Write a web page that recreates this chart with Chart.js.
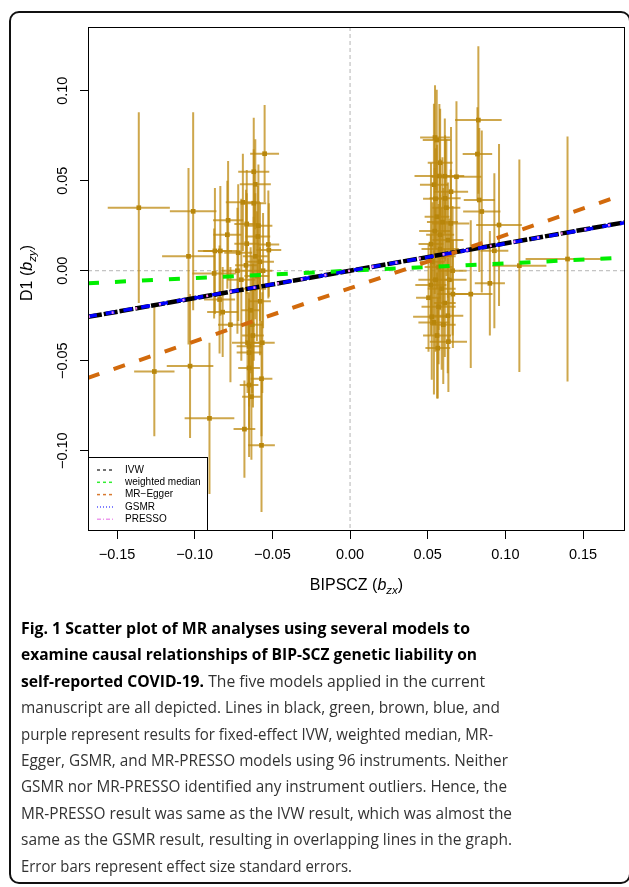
<!DOCTYPE html>
<html>
<head>
<meta charset="utf-8">
<script src="https://cdn.jsdelivr.net/npm/chart.js@4.4.1/dist/chart.umd.min.js"></script>
<style>
body { margin: 0; background: #fff; width: 629px; height: 887px; overflow: hidden; position: relative; }
#c { position: absolute; left: 0; top: 0; }
#frame { position: absolute; left: 9px; top: 11px; width: 622px; height: 873px; box-sizing: border-box;
         border: 2px solid #111; border-radius: 10px; pointer-events: none; }
#cap { position: absolute; left: 21px; top: 615px; font-family: "Open Sans", sans-serif; font-size: 16.5px;
       line-height: 26.4px; color: #333; }
.ln { white-space: nowrap; height: 26.4px; }
.ln .in { display: inline-block; transform-origin: 0 50%; }
.ln b { color: #000; }
</style>
</head>
<body>
<canvas id="c" width="629" height="600"></canvas>
<div id="frame"></div>
<div id="cap">
  <div class="ln" data-w="449"><span class="in"><b>Fig. 1 Scatter plot of MR analyses using several models to</b></span></div>
  <div class="ln" data-w="456"><span class="in"><b>examine causal relationships of BIP-SCZ genetic liability on</b></span></div>
  <div class="ln" data-w="464"><span class="in"><b>self-reported COVID-19.</b> The five models applied in the current</span></div>
  <div class="ln" data-w="479"><span class="in">manuscript are all depicted. Lines in black, green, brown, blue, and</span></div>
  <div class="ln" data-w="472"><span class="in">purple represent results for fixed-effect IVW, weighted median, MR-</span></div>
  <div class="ln" data-w="487"><span class="in">Egger, GSMR, and MR-PRESSO models using 96 instruments. Neither</span></div>
  <div class="ln" data-w="486"><span class="in">GSMR nor MR-PRESSO identified any instrument outliers. Hence, the</span></div>
  <div class="ln" data-w="491"><span class="in">MR-PRESSO result was same as the IVW result, which was almost the</span></div>
  <div class="ln" data-w="491"><span class="in">same as the GSMR result, resulting in overlapping lines in the graph.</span></div>
  <div class="ln" data-w="331"><span class="in">Error bars represent effect size standard errors.</span></div>
</div>
<script>
// effets des instruments sur l'exposition (bzx) et sur le résultat (bzy), avec erreurs standard
const bx = [
  -0.136, -0.101, -0.104, -0.069, -0.062, -0.055, -0.061, -0.0785, -0.079, -0.0665,
  -0.087, -0.0835, -0.0594, -0.0526, -0.0523, -0.0875, -0.061, -0.058, -0.126, -0.103,
  -0.0905, -0.068, -0.057, -0.065, -0.066, -0.065, -0.065, -0.0565, -0.082, -0.084,
  -0.065, -0.058, -0.062, -0.070, -0.067, -0.063, -0.064, -0.060, -0.072, -0.059,
  -0.0635, -0.0625, -0.077, -0.057, -0.0665, -0.062, -0.0725, -0.056,
  0.0826, 0.0547, 0.0558, 0.082, 0.0575, 0.0685, 0.054, 0.065, 0.0612, 0.0832,
  0.0848, 0.0959, 0.0648, 0.0521, 0.0929, 0.109, 0.140, 0.090, 0.0777, 0.0526,
  0.054, 0.0629, 0.0633, 0.0662, 0.056, 0.058, 0.060, 0.057, 0.055, 0.059,
  0.061, 0.056, 0.058, 0.053, 0.063, 0.0505, 0.066, 0.0545, 0.060, 0.062,
  0.057, 0.055, 0.064, 0.0595, 0.052, 0.0565, 0.061, 0.058
];
const by = [
  0.035, 0.033, 0.008, 0.038, 0.055, 0.065, 0.048, 0.028, 0.020, 0.026,
  0.011, 0.011, 0.019, 0.0146, 0.0115, -0.0015, 0.008, 0.005, -0.056, -0.053,
  -0.082, -0.088, -0.097, -0.042, -0.040, -0.054, -0.0635, -0.040, -0.023, -0.016,
  -0.0455, -0.017, -0.010, -0.005, 0.003, -0.030, -0.022, -0.003, 0.010, 0.025,
  -0.070, -0.036, -0.030, -0.060, 0.015, 0.0375, 0.000, 0.000,
  0.0837, 0.074, 0.0726, 0.0648, 0.0526, 0.0522, 0.0478, 0.0439, 0.0402, 0.0393,
  0.0329, 0.0254, 0.0263, 0.0148, 0.0111, 0.0028, 0.0065, -0.007, -0.013, -0.0256,
  -0.0287, -0.025, -0.0394, -0.013, 0.030, 0.020, 0.008, 0.002, -0.005, -0.010,
  -0.018, -0.036, 0.012, 0.005, 0.017, -0.015, 0.000, 0.022, -0.030, 0.035,
  -0.020, 0.040, -0.005, 0.027, -0.008, -0.043, 0.0525, 0.060
];
const sx = [
  0.020, 0.015, 0.017, 0.011, 0.010, 0.0093, 0.010, 0.0097, 0.009, 0.008,
  0.011, 0.011, 0.008, 0.007, 0.008, 0.014, 0.008, 0.009, 0.013, 0.015,
  0.016, 0.007, 0.0086, 0.008, 0.010, 0.007, 0.006, 0.008, 0.010, 0.010,
  0.008, 0.007, 0.008, 0.009, 0.007, 0.007, 0.006, 0.008, 0.009, 0.009,
  0.006, 0.007, 0.008, 0.007, 0.008, 0.008, 0.010, 0.006,
  0.015, 0.0096, 0.009, 0.0095, 0.016, 0.016, 0.009, 0.011, 0.010, 0.010,
  0.012, 0.0147, 0.012, 0.008, 0.009, 0.0174, 0.027, 0.0097, 0.014, 0.012,
  0.010, 0.010, 0.012, 0.010, 0.008, 0.009, 0.008, 0.009, 0.011, 0.009,
  0.007, 0.009, 0.012, 0.008, 0.010, 0.008, 0.009, 0.010, 0.008, 0.009,
  0.011, 0.008, 0.011, 0.010, 0.010, 0.008, 0.009, 0.008
];
const sy = [
  0.053, 0.055, 0.049, 0.027, 0.030, 0.027, 0.025, 0.033, 0.030, 0.030,
  0.035, 0.036, 0.028, 0.030, 0.026, 0.025, 0.035, 0.033, 0.036, 0.040,
  0.042, 0.027, 0.037, 0.030, 0.028, 0.034, 0.040, 0.028, 0.025, 0.030,
  0.030, 0.030, 0.040, 0.045, 0.042, 0.038, 0.035, 0.036, 0.038, 0.034,
  0.035, 0.040, 0.032, 0.032, 0.028, 0.030, 0.035, 0.032,
  0.041, 0.029, 0.028, 0.026, 0.040, 0.042, 0.045, 0.036, 0.035, 0.040,
  0.045, 0.045, 0.030, 0.045, 0.043, 0.059, 0.068, 0.029, 0.041, 0.035,
  0.040, 0.032, 0.028, 0.030, 0.040, 0.042, 0.038, 0.035, 0.040, 0.045,
  0.030, 0.035, 0.030, 0.033, 0.032, 0.030, 0.036, 0.035, 0.033, 0.038,
  0.032, 0.028, 0.034, 0.036, 0.028, 0.028, 0.032, 0.030
];

// droites des cinq modèles : pente et ordonnée à l'origine
const methods = ['IVW', 'weighted median', 'MR\u2212Egger', 'GSMR', 'PRESSO'];
const slopes = [0.152, 0.041, 0.295, 0.151, 0.152];
const intercepts = [0, 0, -0.0097, 0, 0];

const xTicks = [-0.15, -0.10, -0.05, 0.00, 0.05, 0.10, 0.15];
const yTicks = [-0.10, -0.05, 0.00, 0.05, 0.10];

const xMin = -0.1687, xMax = 0.177, yMin = -0.1446, yMax = 0.1354;

const lineColors = ['#000000', '#00ee00', '#d26a0c', '#0000ff', '#ee82ee'];
const lineDash = [[14, 2], [11, 16], [12, 15], [9, 9], [2, 22]];
const lineWidths = [4.5, 4, 4, 3.5, 2.5];
const legendDash = [[3, 3], [3, 3], [3, 3], [1, 2], [4, 2, 1, 2]];
const legendColors = ['#444444', '#33ee33', '#d87a30', '#5555ff', '#ee99ee'];

function fmt(v) {
    const s = Math.abs(v).toFixed(2);
    return (v < -1e-9 ? '\u2212' : '') + s;
}

// texte composé avec indice en italique, ex. "BIPSCZ (b_zx)"
function richLabel(ctx, parts, size) {
    let w = 0;
    parts.forEach(p => {
        ctx.font = (p.it ? 'italic ' : '') + (p.sub ? size * 0.72 : size) + 'px "Liberation Sans", Arial';
        p.w = ctx.measureText(p.t).width;
        w += p.w;
    });
    let cx = -w / 2;
    parts.forEach(p => {
        ctx.font = (p.it ? 'italic ' : '') + (p.sub ? size * 0.72 : size) + 'px "Liberation Sans", Arial';
        ctx.fillText(p.t, cx, p.sub ? size * 0.28 : 0);
        cx += p.w;
    });
}

const mrPlot = {
    id: 'mrPlot',
    beforeDatasetsDraw(chart) {
        const {ctx, chartArea: a, scales: {x, y}} = chart;
        ctx.save();
        ctx.beginPath();
        ctx.rect(a.left, a.top, a.width, a.height);
        ctx.clip();

        // lignes de référence à zéro
        ctx.strokeStyle = '#b4b4b4';
        ctx.lineWidth = 1;
        ctx.setLineDash([4, 3]);
        ctx.beginPath();
        ctx.moveTo(x.getPixelForValue(0), a.top);
        ctx.lineTo(x.getPixelForValue(0), a.bottom);
        ctx.moveTo(a.left, y.getPixelForValue(0));
        ctx.lineTo(a.right, y.getPixelForValue(0));
        ctx.stroke();

        // barres d'erreur
        ctx.setLineDash([]);
        ctx.strokeStyle = 'rgba(190,138,16,0.75)';
        ctx.lineWidth = 2;
        for (let i = 0; i < bx.length; i++) {
            const px = x.getPixelForValue(bx[i]);
            const py = y.getPixelForValue(by[i]);
            ctx.beginPath();
            ctx.moveTo(x.getPixelForValue(bx[i] - sx[i]), py);
            ctx.lineTo(x.getPixelForValue(bx[i] + sx[i]), py);
            ctx.moveTo(px, y.getPixelForValue(by[i] - sy[i]));
            ctx.lineTo(px, y.getPixelForValue(by[i] + sy[i]));
            ctx.stroke();
        }
        ctx.restore();
    },
    afterDraw(chart) {
        const {ctx, chartArea: a, scales: {y}} = chart;
        ctx.save();
        // cadre du graphique
        ctx.strokeStyle = '#000';
        ctx.lineWidth = 1;
        ctx.strokeRect(a.left + 0.5, a.top + 0.5, a.width - 1, a.height - 1);

        // étiquettes de l'axe y, tournées comme dans R
        ctx.fillStyle = '#000';
        ctx.font = '14.5px "Liberation Sans", Arial';
        ctx.textAlign = 'center';
        ctx.textBaseline = 'middle';
        yTicks.forEach(v => {
            ctx.save();
            ctx.translate(63, y.getPixelForValue(v));
            ctx.rotate(-Math.PI / 2);
            ctx.fillText(fmt(v), 0, 0);
            ctx.restore();
        });

        // titres des axes
        ctx.textAlign = 'left';
        ctx.textBaseline = 'alphabetic';
        ctx.save();
        ctx.translate((a.left + a.right) / 2, 590);
        richLabel(ctx, [{t: 'BIPSCZ ('}, {t: 'b', it: true}, {t: 'zx', it: true, sub: true}, {t: ')'}], 16);
        ctx.restore();
        ctx.save();
        ctx.translate(32, (a.top + a.bottom) / 2 - 6);
        ctx.rotate(-Math.PI / 2);
        richLabel(ctx, [{t: 'D1 ('}, {t: 'b', it: true}, {t: 'zy', it: true, sub: true}, {t: ')'}], 16);
        ctx.restore();

        // légende
        const lx = a.left, ly = 457, lw = 119, lh = a.bottom - 457;
        ctx.fillStyle = '#fff';
        ctx.fillRect(lx, ly, lw, lh);
        ctx.strokeStyle = '#000';
        ctx.strokeRect(lx + 0.5, ly + 0.5, lw, lh - 1);
        ctx.font = '10px "Liberation Sans", Arial';
        ctx.textBaseline = 'middle';
        methods.forEach((m, i) => {
            const ry = 470 + i * 12.3;
            ctx.strokeStyle = legendColors[i];
            ctx.lineWidth = 1.5;
            ctx.setLineDash(legendDash[i]);
            ctx.beginPath();
            ctx.moveTo(lx + 9, ry);
            ctx.lineTo(lx + 26, ry);
            ctx.stroke();
            ctx.fillStyle = '#000';
            ctx.fillText(m, lx + 37, ry);
        });
        ctx.restore();
    }
};

window.addEventListener('load', () => {
    let datasets = [];
    const drawOrder = [4, 3, 2, 1, 0];

    methods.forEach((m, i) => {
        datasets.push({
            label: m,
            data: [
                {x: xMin, y: intercepts[i] + slopes[i] * xMin},
                {x: xMax, y: intercepts[i] + slopes[i] * xMax}
            ],
            showLine: true,
            borderColor: lineColors[i],
            borderWidth: lineWidths[i],
            borderDash: lineDash[i],
            borderCapStyle: 'butt',
            pointRadius: 0,
            order: drawOrder[i]
        });
    });

    datasets.push({
        label: 'instruments',
        data: bx.map((v, i) => ({x: v, y: by[i]})),
        pointStyle: 'rect',
        pointRadius: 3.3,
        backgroundColor: '#b8860b',
        borderColor: '#b8860b',
        borderWidth: 0,
        showLine: false,
        order: 10
    });

    const ctx = document.getElementById('c').getContext('2d');
    new Chart(ctx, {
        type: 'scatter',
        data: { datasets: datasets },
        options: {
            responsive: false,
            animation: false,
            layout: { padding: { left: 0, top: 27, right: 4, bottom: 0 } },
            plugins: { legend: { display: false }, tooltip: { enabled: false } },
            scales: {
                x: {
                    type: 'linear', min: xMin, max: xMax,
                    afterBuildTicks: s => { s.ticks = xTicks.map(v => ({value: v})); },
                    afterFit: s => { s.height = 69; },
                    grid: { drawOnChartArea: false, drawTicks: true, tickLength: 8, color: '#000' },
                    border: { display: false },
                    ticks: {
                        autoSkip: false, maxRotation: 0, padding: 7, color: '#000',
                        font: { family: '"Liberation Sans", Arial', size: 14.5 },
                        callback: v => fmt(v)
                    }
                },
                y: {
                    type: 'linear', min: yMin, max: yMax,
                    afterBuildTicks: s => { s.ticks = yTicks.map(v => ({value: v})); },
                    afterFit: s => { s.width = 88; },
                    grid: { drawOnChartArea: false, drawTicks: true, tickLength: 8, color: '#000' },
                    border: { display: false },
                    ticks: { display: false }
                }
            }
        },
        plugins: [mrPlot]
    });

    // ajuster la largeur de chaque ligne de la légende de la figure
    document.querySelectorAll('#cap .ln').forEach(el => {
        const inner = el.querySelector('.in');
        const w = inner.getBoundingClientRect().width;
        inner.style.transform = 'scaleX(' + (parseFloat(el.dataset.w) / w) + ')';
    });
});
</script>
</body>
</html>
